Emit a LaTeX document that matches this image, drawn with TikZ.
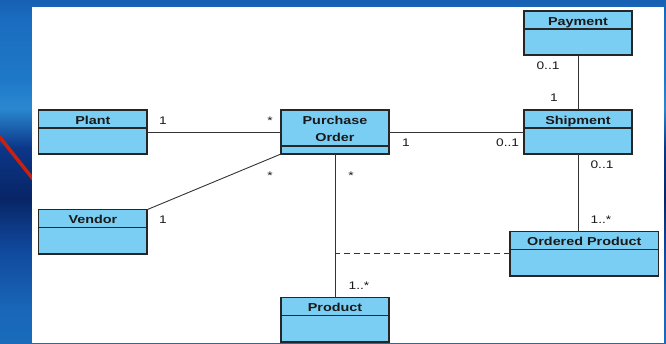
\documentclass[tikz,border=0pt]{standalone}
\usepackage{fontspec}
\setmainfont{Liberation Sans}[FakeStretch=1.25]
\definecolor{classfill}{HTML}{7ACEF3}
\definecolor{linec}{HTML}{262626}
\definecolor{connc}{HTML}{333333}
\definecolor{redline}{HTML}{C8210F}
% water colours for the backdrop
\definecolor{wA}{HTML}{0D3E8E}
\definecolor{wB}{HTML}{1050A0}
\definecolor{wC}{HTML}{0A2F80}
\definecolor{wD}{HTML}{0E3F90}
\definecolor{wE}{HTML}{1A70BD}
\definecolor{wF}{HTML}{1966B8}
\definecolor{wG}{HTML}{10489C}
\definecolor{wH}{HTML}{082566}
\definecolor{wI}{HTML}{0C3688}
\definecolor{wJ}{HTML}{2A88D0}
\definecolor{wK}{HTML}{1E78C8}
\definecolor{wL}{HTML}{1A6CBF}
\definecolor{wM}{HTML}{0D3D90}
\definecolor{wN}{HTML}{0A2A7A}
\definecolor{wO}{HTML}{123F92}
\definecolor{wP}{HTML}{1458A8}
\pgfdeclareverticalshading{water}{100bp}{%
  color(0bp)=(wA); color(3.8bp)=(wB); color(9.6bp)=(wC); color(15.5bp)=(wD);
  color(21.3bp)=(wE); color(30bp)=(wF); color(38.8bp)=(wG); color(46.1bp)=(wH);
  color(53.4bp)=(wI); color(59.2bp)=(wJ); color(63.6bp)=(wK); color(72.3bp)=(wL);
  color(82.5bp)=(wM); color(88.3bp)=(wN); color(97.1bp)=(wO); color(100bp)=(wP)}
\tikzset{
  classbox/.style={draw=linec, fill=classfill, line width=1.1pt, inner sep=0pt,
    outer sep=0pt, anchor=north west},
  divider/.style={draw=linec, line width=1.1pt},
  classname/.style={font=\fontsize{11.5}{17}\selectfont\bfseries, anchor=base,
    inner sep=0pt, text=black!90, align=center},
  mult/.style={font=\fontsize{11}{13}\selectfont, anchor=base, inner sep=0pt,
    text=black!90},
  assoc/.style={draw=connc, line width=0.9pt},
  link/.style={draw=connc, line width=0.9pt, dash pattern=on 6pt off 4pt},
}
% class box: name, left, top, width, height, header depth
\newcommand\umlclass[6]{%
  \node[classbox, minimum width=#4pt, minimum height=#5pt] (#1) at (#2,#3) {};
  \draw[divider] ([yshift=-#6pt]#1.north west) -- ([yshift=-#6pt]#1.north east);
}
\begin{document}
\begin{tikzpicture}[x=1pt,y=-1pt]
  \useasboundingbox (0,0) rectangle (666,343);
  % backdrop and page
  \begin{scope}
    \clip (0,0) rectangle (666,343);
    \shade[shading=water] (0,0) rectangle (666,343);
    \draw[redline, line width=3.5pt] (-2,135) -- (33,179);
  \end{scope}
  \fill[white] (32,7) rectangle (664,343);

  % classes
  \umlclass{payment}{524}{11}{108}{44}{18}
  \umlclass{shipment}{524}{110}{108}{44}{18}
  \umlclass{po}{281}{110}{108}{44}{36}
  \umlclass{plant}{38.7}{110}{108.3}{44}{18}
  \umlclass{vendor}{38.7}{209.7}{108.3}{44.3}{18}
  \umlclass{op}{510}{231.7}{148.5}{44.3}{17.5}
  \umlclass{product}{281}{297.7}{108}{44.3}{17.6}

  \node[classname] (payment-t) at (578,25) {Payment};
  \node[classname] (shipment-t) at (578,124) {Shipment};
  \node[classname] (po-t1) at (335,124) {Purchase};
  \node[classname] (po-t2) at (335,141.7) {Order};
  \node[classname] (plant-t) at (92.9,124) {Plant};
  \node[classname] (vendor-t) at (92.9,223.5) {Vendor};
  \node[classname] (op-t) at (584.3,245.8) {Ordered Product};
  \node[classname] (product-t) at (335,311.8) {Product};

  % associations
  \draw[assoc] (plant.east) -- (po.west);
  \draw[assoc] (po.east) -- (shipment.east -| shipment.west);
  \draw[assoc] (vendor.north east) -- (po.south west);
  \draw[assoc] (po.south) -- (product.north);
  \draw[assoc] (payment.south) -- (shipment.north);
  \draw[assoc] (shipment.south) -- (shipment.south |- op.north);
  \coordinate (assocpt) at (po.south |- op.west);
  \draw[link] (op.west) -- (assocpt);

  % multiplicities
  \node[mult] (m-plant) at (163,124) {1};
  \node[mult] (m-po-plant) at (270,124) {*};
  \node[mult] (m-po-ship) at (406,146.7) {1};
  \node[mult] (m-ship-po) at (507.6,146.7) {0..1};
  \node[mult] (m-po-vendor) at (270,179) {*};
  \node[mult] (m-vendor) at (163,223) {1};
  \node[mult] (m-po-product) at (351,179) {*};
  \node[mult] (m-payment) at (548,69) {0..1};
  \node[mult] (m-ship-pay) at (554,101.7) {1};
  \node[mult] (m-ship-op) at (602,168) {0..1};
  \node[mult] (m-op) at (601,223) {1..*};
  \node[mult] (m-product) at (359,289) {1..*};
\end{tikzpicture}
\end{document}
